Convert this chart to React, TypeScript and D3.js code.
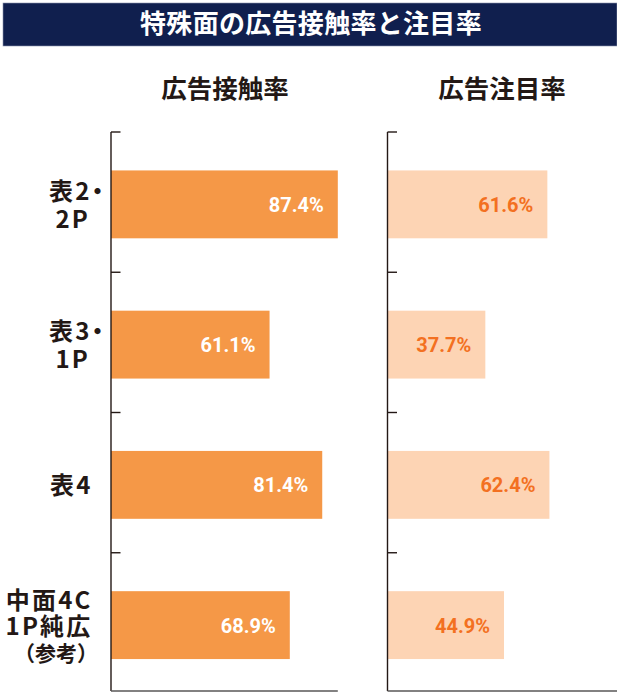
import React from "react";
import * as d3 from "d3";

const title = "特殊面の広告接触率と注目率";
const panelTitles = ["広告接触率", "広告注目率"];
const categories = ["表2・2P", "表3・1P", "表4", "中面4C1P純広（参考）"];
const categoryLines = [["表2・", "2P"], ["表3・", "1P"], ["表4"], ["中面4C", "1P純広", "（参考）"]];
const contactRate = [87.4, 61.1, 81.4, 68.9];
const attentionRate = [61.6, 37.7, 62.4, 44.9];

const W = 617;
const H = 694;
const JP = "'Noto Sans CJK JP', 'Noto Sans', sans-serif";
const NUM = "Roboto, 'Liberation Sans', sans-serif";

export default function App() {
  const y = d3.scaleBand<string>().domain(categories).range([132, 693]).padding(0);
  const x = d3.scaleLinear().domain([0, 100]).range([0, 259.5]);
  const step = y.step();
  const barOff = step * 0.274;
  const barH = step * 0.484;
  const axisBottom = 691;

  const panels = [
    { x0: 111, values: contactRate, fill: "#f59847", text: "#ffffff", title: panelTitles[0], titleX: 225, lineEnd: 111 + x(87.4) },
    { x0: 387.5, values: attentionRate, fill: "#fdd4b4", text: "#f37021", title: panelTitles[1], titleX: 502, lineEnd: 617 },
  ];

  const FS = 24;
  const LS = 2.2;

  const renderLine = (l: string, li: number, baseY: number) => {
    if (l.endsWith("・")) {
      const head = l.slice(0, -1);
      return (
        <tspan key={li} x={109.5} y={baseY}>
          <tspan letterSpacing={LS}>{head}</tspan>
          <tspan dx={-6} letterSpacing={0}>・</tspan>
        </tspan>
      );
    }
    if (li === 2) {
      return (
        <tspan key={li} x={98} y={baseY} fontSize={21} letterSpacing={0}>
          {l}
        </tspan>
      );
    }
    const isShortLatin = /^[0-9A-Z]+$/.test(l);
    return (
      <tspan key={li} x={isShortLatin ? 90 : 92.5} y={baseY} letterSpacing={LS}>
        {l}
      </tspan>
    );
  };

  return (
    <div style={{ position: "absolute", left: 0, top: 0 }}>
      <svg width={W} height={H} viewBox={`0 0 ${W} ${H}`} style={{ display: "block" }}>
        <rect x={0} y={0} width={W} height={H} fill="#ffffff" />
        <rect x={3} y={3} width={W - 3} height={43} fill="#101f4e" stroke="#8a93ad" strokeWidth={0.6} />
        <text x={311} y={33} textAnchor="middle" fill="#ffffff" fontFamily={JP} fontWeight={700} fontSize={26} letterSpacing={0.3}>
          {title}
        </text>

        {panels.map((p, pi) => (
          <g key={pi}>
            <text x={p.titleX} y={98} textAnchor="middle" fill="#231815" fontFamily={JP} fontWeight={700} fontSize={25.5}>
              {p.title}
            </text>
            {categories.map((c, i) => {
              const by = (y(c) as number) + barOff;
              const w = x(p.values[i]);
              return (
                <g key={c}>
                  <rect x={p.x0} y={by} width={w} height={barH} fill={p.fill} />
                  <text
                    x={p.x0 + w - 14}
                    y={by + barH / 2 + 7.5}
                    textAnchor="end"
                    fill={p.text}
                    fontFamily={NUM}
                    fontWeight={700}
                    fontSize={20}
                  >
                    {p.values[i].toFixed(1)}%
                  </text>
                </g>
              );
            })}
            <line x1={p.x0} x2={p.x0} y1={132} y2={axisBottom} stroke="#231815" strokeWidth={1.4} />
            {categories.map((c) => (
              <line key={c} x1={p.x0} x2={p.x0 + 9.5} y1={y(c) as number} y2={y(c) as number} stroke="#231815" strokeWidth={1.4} />
            ))}
            <line x1={p.x0} x2={p.lineEnd} y1={axisBottom} y2={axisBottom} stroke="#595757" strokeWidth={1.5} />
          </g>
        ))}

        {categories.map((c, i) => {
          const lines = categoryLines[i];
          const lh = lines.length === 3 ? 26 : 28.3;
          const cy = (y(c) as number) + barOff + barH / 2;
          const first = cy + 9.5 - ((lines.length - 1) * lh) / 2;
          return (
            <text key={c} textAnchor="end" fill="#231815" fontFamily={JP} fontWeight={700} fontSize={FS}>
              {lines.map((l, li) => renderLine(l, li, first + li * lh))}
            </text>
          );
        })}
      </svg>
    </div>
  );
}
